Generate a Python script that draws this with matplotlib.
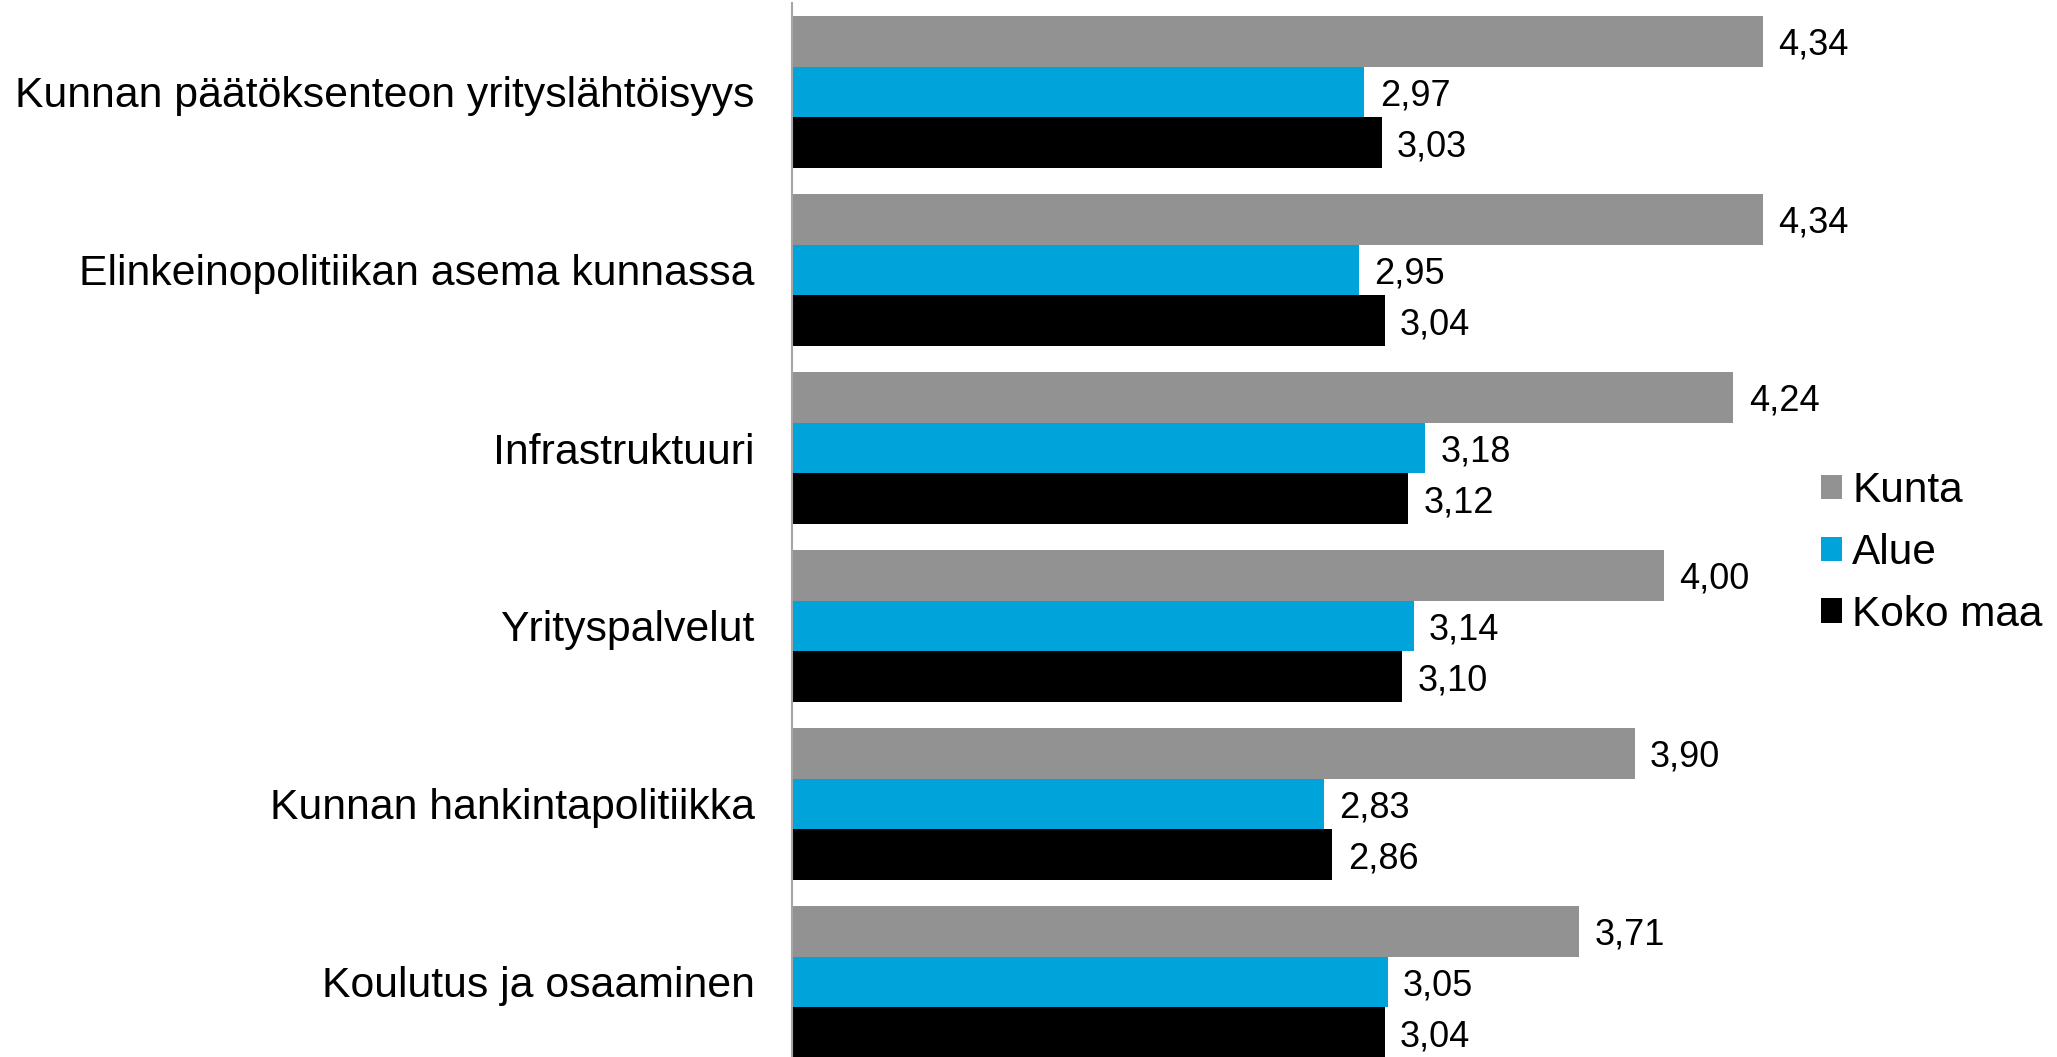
import matplotlib
matplotlib.use("Agg")
import matplotlib.pyplot as plt
from matplotlib.patches import Patch
import numpy as np

plt.rcParams['font.family'] = ['Liberation Sans', 'DejaVu Sans']

categories = [
    "Kunnan päätöksenteon yrityslähtöisyys",
    "Elinkeinopolitiikan asema kunnassa",
    "Infrastruktuuri",
    "Yrityspalvelut",
    "Kunnan hankintapolitiikka",
    "Koulutus ja osaaminen",
]
series_names = ["Kunta", "Alue", "Koko maa"]
kunta = [4.34, 4.34, 4.24, 4.00, 3.90, 3.71]
alue = [2.97, 2.95, 3.18, 3.14, 2.83, 3.05]
koko_maa = [3.03, 3.04, 3.12, 3.10, 2.86, 3.04]
colors = ["#929292", "#00A3DA", "#000000"]

W, H = 2057, 1057
fig = plt.figure(figsize=(W / 100, H / 100), dpi=100)
left = 792 / W
right = 1809 / W
top = 1 - 3 / H
bottom = (H - 1071) / H
ax = fig.add_axes([left, bottom, right - left, top - bottom])

n = len(categories)
y = np.arange(n)
bh = 0.2857
xmin = 1.0
for i, (vals, col) in enumerate(zip([kunta, alue, koko_maa], colors)):
    pos = y + (i - 1) * bh
    ax.barh(pos, np.array(vals) - xmin, left=xmin, height=bh, color=col,
            label=series_names[i], edgecolor='none')
    for p, v in zip(pos, vals):
        ax.annotate(f"{v:.2f}".replace(".", ","), xy=(v, p), xytext=(11, -3),
                    textcoords='offset points', va='center', ha='left',
                    fontsize=26, color='black', annotation_clip=False)

ax.set_xlim(xmin, 4.5)
ax.set_ylim(n - 0.5, -0.5)
ax.set_yticks(y)
ax.set_yticklabels(categories, fontsize=30.8)
ax.tick_params(axis='y', length=0, pad=27)
ax.set_xticks([])
for s in ['top', 'right', 'bottom']:
    ax.spines[s].set_visible(False)
ax.spines['left'].set_color('#a6a6a6')
ax.spines['left'].set_linewidth(1.5)

handles = [Patch(facecolor=c, edgecolor='none') for c in colors]
fig.legend(handles, series_names, loc='center left',
           bbox_to_anchor=(1821 / W, 1 - 553 / H), frameon=False,
           fontsize=30.5, handlelength=0.5, handleheight=0.5,
           handletextpad=0.24, labelspacing=0.51, borderpad=0, borderaxespad=0)

fig.savefig("out.png", dpi=100)
